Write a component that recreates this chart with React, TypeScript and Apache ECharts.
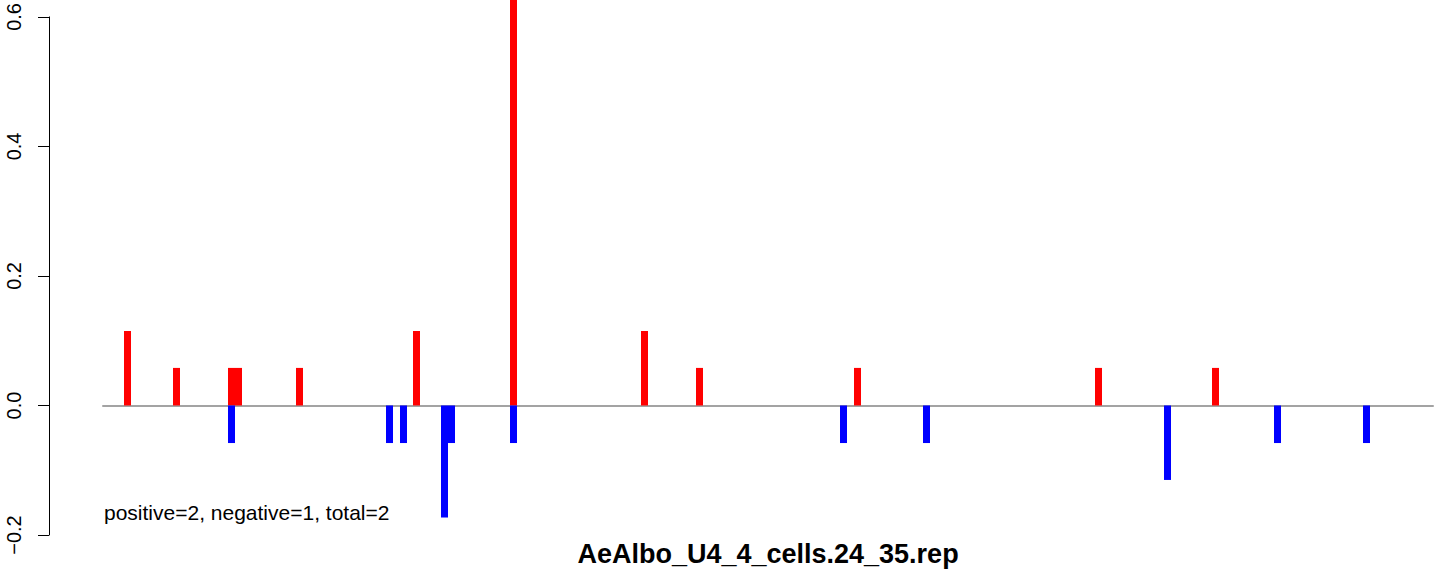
import React, { useEffect, useRef } from "react";
import * as echarts from "echarts";

// positions along the x scale (arbitrary units)
const positions = [24.5, 73.5, 128.5, 135.5, 196.5, 286.5, 300.5, 313.5, 341.5, 348.5, 410.5, 541.5, 596.5, 740.5, 754.5, 823.5, 995.5, 1064.5, 1112.5, 1174.5, 1263.5];
const positiveValues = [0.115, 0.058, 0.058, 0.058, 0.058, 0, 0, 0.115, 0, 0, 0.75, 0.115, 0.058, 0, 0.058, 0, 0.058, 0, 0.058, 0, 0];
const negativeValues = [0, 0, -0.058, 0, 0, -0.058, -0.058, 0, -0.173, -0.058, -0.058, 0, 0, -0.058, 0, -0.058, 0, -0.115, 0, -0.058, -0.058];
const yTicks = [-0.2, 0.0, 0.2, 0.4, 0.6];
const xRange = [0, 1330];
const titleText = "AeAlbo_U4_4_cells.24_35.rep";
const summaryText = "positive=2, negative=1, total=2";

const FONT = '"Liberation Sans", Arial, Helvetica, sans-serif';

export default function App() {
  const ref = useRef<HTMLDivElement>(null);
  useEffect(() => {
    if (!ref.current) return;
    const chart = echarts.init(ref.current, null, { renderer: "svg" });
    const pos = positions
      .map((x, i) => [x, positiveValues[i]])
      .filter((d) => d[1] !== 0);
    const neg = positions
      .map((x, i) => [x, negativeValues[i]])
      .filter((d) => d[1] !== 0);
    chart.setOption({
      animation: false,
      backgroundColor: "#ffffff",
      grid: { left: 103, right: 11, top: 16, bottom: 36, containLabel: false },
      xAxis: {
        type: "value",
        min: xRange[0],
        max: xRange[1],
        axisLine: { show: true, onZero: true, lineStyle: { color: "#a3a3a3", width: 2 } },
        axisTick: { show: false },
        axisLabel: { show: false },
        splitLine: { show: false },
      },
      yAxis: {
        type: "value",
        min: yTicks[0],
        max: yTicks[yTicks.length - 1],
        interval: 0.2,
        offset: 54,
        axisLine: { show: true, onZero: false, lineStyle: { color: "#000", width: 1 } },
        axisTick: { show: true, length: 11, lineStyle: { color: "#000", width: 1 } },
        axisLabel: {
          rotate: 90,
          margin: 25,
          fontSize: 20,
          fontFamily: FONT,
          color: "#000",
          formatter: (v: number) => v.toFixed(1).replace("-", "\u2212"),
        },
        splitLine: { show: false },
      },
      series: [
        {
          type: "bar",
          data: pos,
          barWidth: 7,
          barGap: "-100%",
          clip: false,
          itemStyle: { color: "#ff0000" },
          z: 3,
        },
        {
          type: "bar",
          data: neg,
          barWidth: 7,
          barGap: "-100%",
          clip: false,
          itemStyle: { color: "#0000ff" },
          z: 3,
        },
      ],
      graphic: [
        {
          type: "text",
          x: 104,
          y: 512,
          style: {
            text: summaryText,
            font: `21px ${FONT}`,
            fill: "#000",
            align: "left",
            verticalAlign: "middle",
          },
        },
        {
          type: "text",
          x: 768,
          y: 554,
          style: {
            text: titleText,
            font: `bold 27px ${FONT}`,
            fill: "#000",
            align: "center",
            verticalAlign: "middle",
          },
        },
      ],
    });
    return () => chart.dispose();
  }, []);
  return (
    <div
      ref={ref}
      style={{ position: "fixed", left: 0, top: 0, width: 1444, height: 571 }}
    />
  );
}
